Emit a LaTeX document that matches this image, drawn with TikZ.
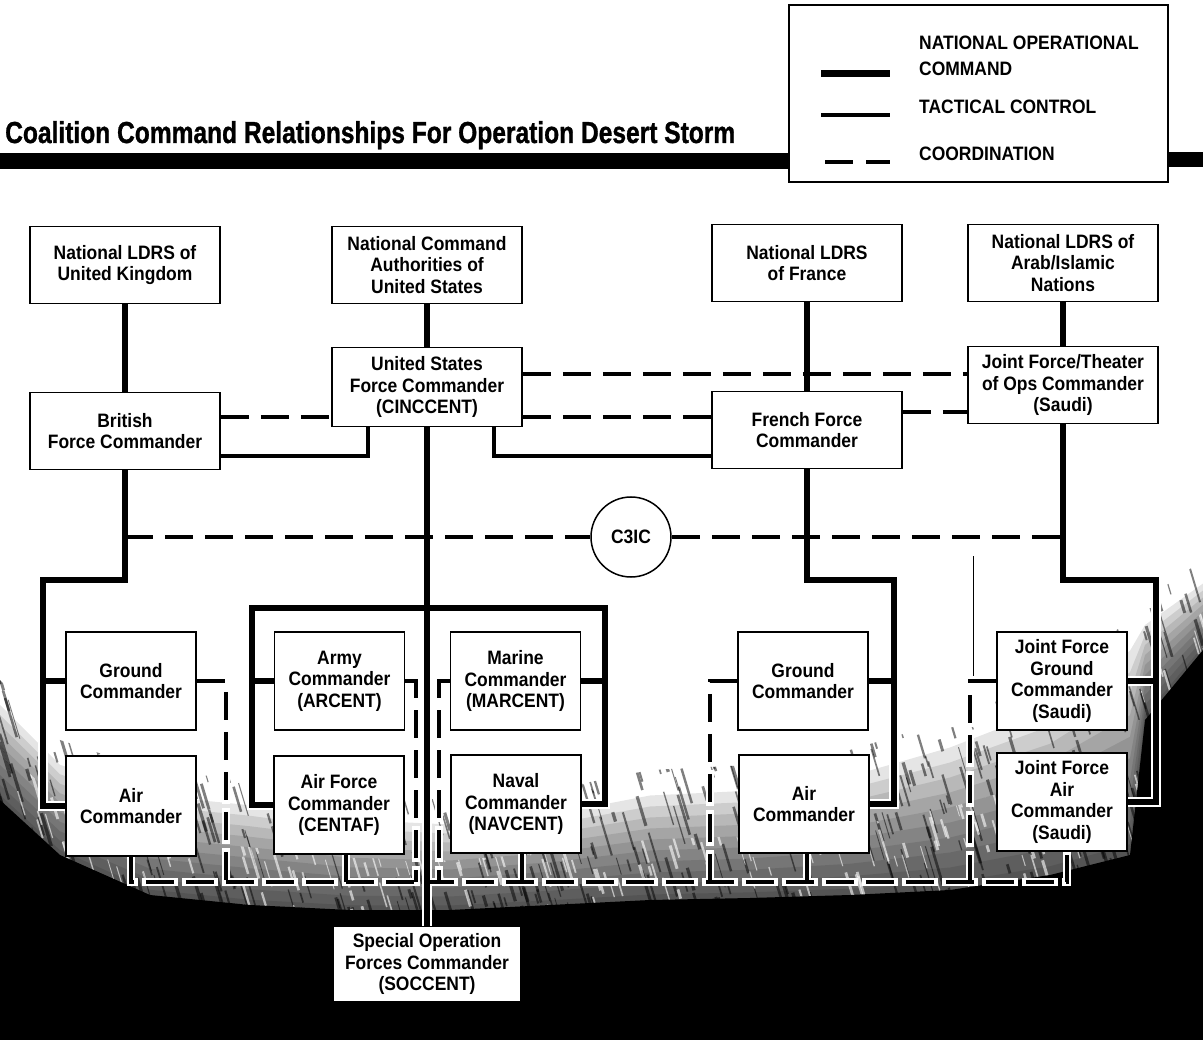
\documentclass[tikz,border=0pt]{standalone}
\usepackage{fontspec}
\setmainfont{Liberation Sans}
\newfontfamily\boxfam{Liberation Sans}[FakeStretch=0.9]
\newfontfamily\titlefam{Liberation Sans}[UprightFeatures={FakeBold=1.2}, BoldFeatures={FakeBold=1.2}]
\usetikzlibrary{calc}
\pgfdeclarelayer{bg}
\pgfdeclarelayer{halo}
\pgfsetlayers{bg,halo,main}
\newcommand\boxfont{\boxfam\bfseries\fontsize{19.4}{21.5}\selectfont}
\newcommand\legfont{\boxfam\bfseries\fontsize{19.4}{20}\selectfont}
\newcommand\conn[2]{\begin{pgfonlayer}{halo}\draw[#1 halo] #2;\end{pgfonlayer}\draw[#1] #2;}
\def\darkedge{0/700/800,60/760/855,150/790/895,250/800/905,350/815/910,450/820/910,550/810/905,650/790/900,750/785/898,850/770/895,950/740/890,1050/700/875,1130/640/855,1145/620/720,1203/580/650}
\tikzset{
  box/.style={draw, line width=1.8pt, fill=white, align=center, inner sep=0pt, font=\boxfont},
  topbox/.style={box, minimum width=190pt, minimum height=77pt},
  cmdbox/.style={box, minimum width=130pt, minimum height=98pt},
  natl/.style={line width=6pt, line join=miter},
  natl halo/.style={natl, white, line width=10pt, line cap=rect},
  tac/.style={line width=3.5pt},
  tac halo/.style={white, line width=7.5pt, line cap=rect},
  crd/.style={line width=4pt, dash pattern=on 28pt off 12pt},
  crd halo/.style={crd, white, line width=8pt, line cap=rect},
  legtext/.style={anchor=base west, inner sep=0pt, font=\legfont},
}
\begin{document}
\begin{tikzpicture}[x=1pt, y=-1pt]
\useasboundingbox (0,0) rectangle (1203,1040);
% background with dark, streaky fade at the bottom
\begin{pgfonlayer}{bg}
\fill[white] (0,0) rectangle (1203,1040);
\foreach \t in {0.05,0.15,0.25,0.35,0.45,0.55,0.65,0.75,0.85,0.95}{
  \fill[black, opacity=0.1] (0,1040) foreach \x/\a/\b in \darkedge {-- (\x,{\a+\t*(\b-\a)})} -- (1203,1040) -- cycle;
}
\pgfmathsetseed{4242}
\begin{scope}
  \clip (0,1040) foreach \x/\a/\b in \darkedge {-- (\x,{\a-20})} -- (1203,1040) -- cycle;
  \foreach \i in {1,...,1000}{
    \pgfmathsetmacro\sx{rnd*1240-20}
    \pgfmathsetmacro\sy{540+rnd*380}
    \pgfmathsetmacro\sl{8+rnd*32}
    \pgfmathsetmacro\sw{0.8+rnd*2.5}
    \draw[black, opacity=0.5, line width=\sw pt] (\sx,\sy) -- ++(\sl*0.3,\sl);
  }
\end{scope}
\begin{scope}
  \clip (0,1040) foreach \x/\a/\b in \darkedge {-- (\x,{\a+0.45*(\b-\a)})} -- (1203,1040) -- cycle;
  \foreach \i in {1,...,700}{
    \pgfmathsetmacro\sx{rnd*1240-20}
    \pgfmathsetmacro\sy{600+rnd*320}
    \pgfmathsetmacro\sl{6+rnd*26}
    \pgfmathsetmacro\sw{0.8+rnd*2.2}
    \draw[white, opacity=0.6, line width=\sw pt] (\sx,\sy) -- ++(\sl*0.3,\sl);
  }
\end{scope}
\fill[black] (0,1040) foreach \x/\a/\b in \darkedge {-- (\x,\b)} -- (1203,1040) -- cycle;
\end{pgfonlayer}

% title and bar
\node[anchor=base west, inner sep=0pt] (title) at (5,143)
  {\resizebox{730pt}{22pt}{\titlefam\bfseries Coalition Command Relationships For Operation Desert Storm}};
\fill (0,153) rectangle (789,169);
\fill (1168,152) rectangle (1203,167);

% legend
\node[draw, line width=1.6pt, fill=white, minimum width=379pt, minimum height=177pt, inner sep=0pt] (legend) at (978.5,93.5) {};
\node[legtext] (l1) at (919,50) {NATIONAL OPERATIONAL};
\node[legtext] (l2) at (919,76) {COMMAND};
\node[legtext] (l3) at (919,114) {TACTICAL CONTROL};
\node[legtext] (l4) at (919,161) {COORDINATION};
\draw[line width=7pt] (821,74) -- (890,74);
\draw[line width=4pt] (821,115) -- (890,115);
\draw[line width=4pt] (825,162) -- (853,162) (866,162) -- (890,162);

% boxes
\node[topbox] (uk) at (125,265) {National LDRS of\\United Kingdom};
\node[topbox] (nca) at (427,265) {National Command\\Authorities of\\United States};
\node[topbox] (fr) at (807,263) {National LDRS\\of France};
\node[topbox] (arab) at (1063,263) {National LDRS of\\Arab/Islamic\\Nations};
\node[topbox] (brit) at (125,431) {British\\Force Commander};
\node[topbox, minimum height=79pt] (cinc) at (427,387) {United States\\Force Commander\\(CINCCENT)};
\node[topbox] (frfc) at (807,430) {French Force\\Commander};
\node[topbox] (jft) at (1063,385) {Joint Force/Theater\\of Ops Commander\\(Saudi)};
\node[circle, draw, line width=1.5pt, fill=white, minimum size=80pt, inner sep=0pt, font=\boxfont] (c3ic) at (631,537) {C3IC};
\node[cmdbox] (gl) at (131,681) {Ground\\Commander};
\node[cmdbox, minimum height=100pt] (al) at (131,806) {Air\\Commander};
\node[cmdbox] (army) at (339.5,681) {Army\\Commander\\(ARCENT)};
\node[cmdbox] (centaf) at (339,805) {Air Force\\Commander\\(CENTAF)};
\node[cmdbox] (marine) at (515.5,681) {Marine\\Commander\\(MARCENT)};
\node[cmdbox] (naval) at (516,804) {Naval\\Commander\\(NAVCENT)};
\node[cmdbox] (gr) at (803,681) {Ground\\Commander};
\node[cmdbox] (ar) at (804,804) {Air\\Commander};
\node[cmdbox] (jfg) at (1062,681) {Joint Force\\Ground\\Commander\\(Saudi)};
\node[cmdbox] (jfa) at (1062,802) {Joint Force\\Air\\Commander\\(Saudi)};
\node[box, minimum width=187pt, minimum height=75pt] (soc) at (427,964) {Special Operation\\Forces Commander\\(SOCCENT)};

% bend points
\coordinate (bkL) at (43,580);
\coordinate (bkU) at (252,608);
\coordinate (bkU2) at (605,608);
\coordinate (bkF) at (894,580);
\coordinate (bkA) at (1156,580);
\coordinate (tL) at (368,456);
\coordinate (tR) at (494,456);
\coordinate (bAL) at (131,882);
\coordinate (bGL) at (226,882);
\coordinate (bCE) at (346,882);
\coordinate (bAR) at (416,882);
\coordinate (bMA) at (439,882);
\coordinate (bNA) at (522,882);
\coordinate (bGR) at (710,882);
\coordinate (bARr) at (807,882);
\coordinate (bJG) at (970,882);
\coordinate (bJA) at (1067,882);

% coordination
\conn{crd}{(brit.east |- 0,417) -- (cinc.west |- 0,417)}
\conn{crd}{(cinc.east |- 0,374) -- (jft.west |- 0,374)}
\conn{crd}{(cinc.east |- 0,417) -- (frfc.west |- 0,417)}
\conn{crd}{(frfc.east |- 0,412) -- (jft.west |- 0,412)}
\conn{crd}{(brit.south |- c3ic.west) -- (c3ic.west)}
\conn{crd}{(c3ic.east) -- (c3ic.east -| jft.south)}
\conn{crd}{(al.south) -- (bAL) -- (bJA) -- (bJA |- jfa.south)}
\conn{crd}{(centaf.south -| bCE) -- (bCE)}
\conn{crd}{(naval.south -| bNA) -- (bNA)}
\conn{crd}{(ar.south -| bARr) -- (bARr)}
\conn{crd}{(gl.east) -| (bGL)}
\conn{crd}{(army.east) -| (bAR)}
\conn{crd}{(marine.west) -| (bMA)}
\conn{crd}{(gr.west) -| (bGR)}
\conn{crd}{(jfg.west) -| (bJG)}
\draw[line width=1pt] (973,556) -- (973,676);

% tactical control
\conn{tac}{(tL -| brit.east) -- (tL) -- (tL |- cinc.south)}
\conn{tac}{(tR |- cinc.south) -- (tR) -- (tR -| frfc.west)}

% national operational command
\conn{natl}{(uk) -- (brit)}
\conn{natl}{(nca) -- (cinc)}
\conn{natl}{(cinc) -- (soc)}
\conn{natl}{(fr) -- (frfc)}
\conn{natl}{(arab) -- (jft)}
\conn{natl}{(brit.south) |- (bkL) |- (al.west)}
\conn{natl}{(bkL |- gl.west) -- (gl.west)}
\conn{natl}{(centaf.west) -| (bkU) -- (bkU2) |- (naval.east)}
\conn{natl}{(army.west) -- (army.west -| bkU)}
\conn{natl}{(marine.east) -- (marine.east -| bkU2)}
\conn{natl}{(frfc.south) |- (bkF) |- (ar.east)}
\conn{natl}{(gr.east) -- (gr.east -| bkF)}
\conn{natl}{(jft.south) |- (bkA) |- (jfa.east)}
\conn{natl}{(jfg.east) -- (jfg.east -| bkA)}
\end{tikzpicture}
\end{document}
